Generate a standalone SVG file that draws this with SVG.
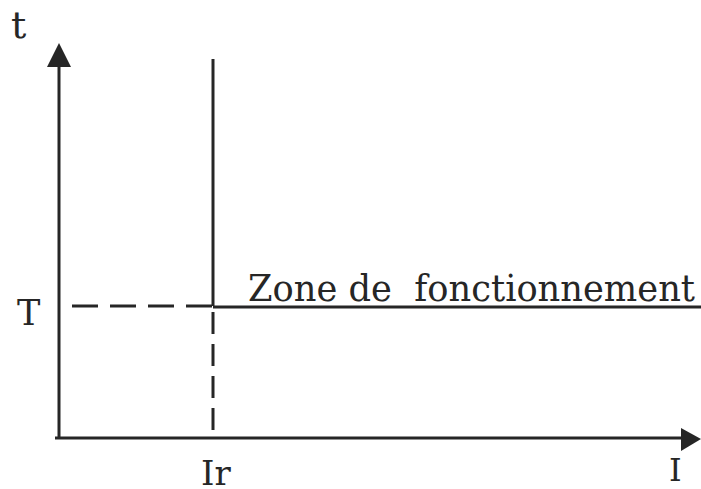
<svg xmlns="http://www.w3.org/2000/svg" width="701" height="489" viewBox="0 0 701 489">
<style>
.ln{stroke:#262626;stroke-width:3;fill:none}
.ds{stroke-dasharray:26 12}
.dv{stroke-dasharray:22 10}
text{font-family:"DejaVu Serif","Liberation Serif",serif;fill:#262626;white-space:pre}
</style>
<rect width="701" height="489" fill="#fff"/>
<g id="connectors">
<line class="ln" x1="59" y1="439" x2="59" y2="66"/>
<path d="M59,43 L47,67 L71,67 Z" fill="#262626"/>
<line class="ln" x1="55" y1="438" x2="682" y2="438"/>
<path d="M701,439 L681,428 L681,451 Z" fill="#262626"/>
<line class="ln" x1="213" y1="59" x2="213" y2="306"/>
<line class="ln dv" x1="213" y1="312" x2="213" y2="438"/>
<line class="ln ds" x1="72" y1="306" x2="213" y2="306"/>
<line class="ln" x1="213" y1="307" x2="701" y2="307"/>
</g>
<g id="labels">
<text x="11" y="38" font-size="38">t</text>
<text x="17" y="325" font-size="35">T</text>
<text x="201" y="485" font-size="34">Ir</text>
<text x="669" y="481" font-size="32">I</text>
<text x="248" y="301" font-size="37" textLength="447" lengthAdjust="spacingAndGlyphs">Zone de  fonctionnement</text>
</g>
</svg>
